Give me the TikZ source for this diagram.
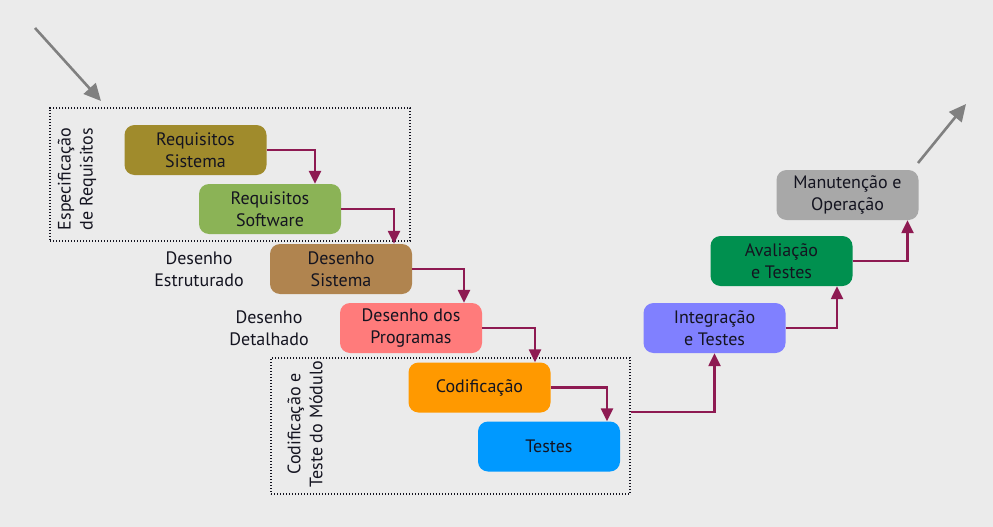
\documentclass[tikz,border=0pt]{standalone}
\usepackage{fontspec}
\setmainfont{PT Sans}
\usetikzlibrary{arrows.meta,positioning}

\definecolor{bgc}{HTML}{EBEBEB}
\definecolor{ink}{HTML}{141420}
\definecolor{flowc}{HTML}{8E1A52}
\definecolor{reqsisc}{HTML}{A08B2C}
\definecolor{reqswc}{HTML}{8BB356}
\definecolor{dessisc}{HTML}{B0844F}
\definecolor{desprogc}{HTML}{FF7B7B}
\definecolor{codifc}{HTML}{FF9900}
\definecolor{testesc}{HTML}{0099FF}
\definecolor{integc}{HTML}{8080FF}
\definecolor{avalc}{HTML}{00904F}
\definecolor{manutc}{HTML}{A8A8A8}

\begin{document}
\begin{tikzpicture}[x=1pt,y=-1pt,on grid,node distance=59pt and 70pt,
  stage/.style={rounded corners=10pt,minimum width=142pt,minimum height=50pt,
    align=center,text=ink,font=\fontsize{18}{22}\selectfont},
  flow/.style={draw=flowc,line width=2.4pt,-{Triangle[length=13pt,width=12pt]}},
  phase/.style={draw=ink,line width=1.2pt,dash pattern=on 1.2pt off 1.8pt,minimum width=#1},
  side/.style={align=center,text=ink,font=\fontsize{18}{22}\selectfont},
  entry/.style={draw=gray,line width=2.6pt,-{Triangle[length=17pt,width=16pt]}}]

  \fill[bgc] (0,0) rectangle (993,527);
  \useasboundingbox (0,0) rectangle (993,527);

  % descending steps
  \node[stage,fill=reqsisc] (reqsis) at (195.5,150) {Requisitos\\Sistema};
  \node[stage,fill=reqswc] (reqsw) [below right=59pt and 74.5pt of reqsis] {Requisitos\\Software};
  \node[stage,fill=dessisc] (dessis) [below right=60pt and 71pt of reqsw] {Desenho\\Sistema};
  \node[stage,fill=desprogc] (desprog) [below right=of dessis] {Desenho dos\\Programas};
  \node[stage,fill=codifc] (codif) [below right=59.5pt and 68.5pt of desprog] {Codificação};
  \node[stage,fill=testesc] (testes) [below right=59pt and 69.5pt of codif] {Testes};

  % rising steps
  \node[stage,fill=integc] (integ) [right=303.5pt of desprog] {Integração\\e Testes};
  \node[stage,fill=avalc] (aval) [above right=67pt and 67pt of integ] {Avaliação\\e Testes};
  \node[stage,fill=manutc] (manut) [above right=66pt and 66pt of aval] {Manutenção e\\Operação};

  % phase boxes
  \node[phase=360pt,minimum height=133pt] (spec) at (230,174.5) {};
  \node[phase=359pt,minimum height=136pt] (modulo) at (450.5,426) {};
  \node[side,rotate=90] at (77,179) {Especificação\\de Requisitos};
  \node[side,rotate=90] at (305,424) {Codificação e\\Teste do Módulo};
  \node[side] at (199,269) {Desenho\\Estruturado};
  \node[side] at (269,328) {Desenho\\Detalhado};

  % flow
  \draw[flow] (reqsis) -| ([xshift=45pt]reqsw.north);
  \draw[flow] (reqsw) -| ([xshift=53pt]dessis.north);
  \draw[flow] (dessis) -| ([xshift=53pt]desprog.north);
  \draw[flow] (desprog) -| ([xshift=55.5pt]codif.north);
  \draw[flow] (codif) -| ([xshift=58pt]testes.north);
  \coordinate (out) at (modulo.east |- 0,412);
  \draw[flow] (out) -| (integ.south);
  \draw[flow] (integ) -| ([xshift=55.5pt]aval.south);
  \draw[flow] (aval) -| ([xshift=60pt]manut.south);

  % in and out
  \coordinate (start) at (35,28);
  \coordinate (start end) at (101,101);
  \coordinate (finish) at (918,163);
  \coordinate (finish end) at (966,104);
  \draw[entry] (start) -- (start end);
  \draw[entry] (finish) -- (finish end);
\end{tikzpicture}
\end{document}
